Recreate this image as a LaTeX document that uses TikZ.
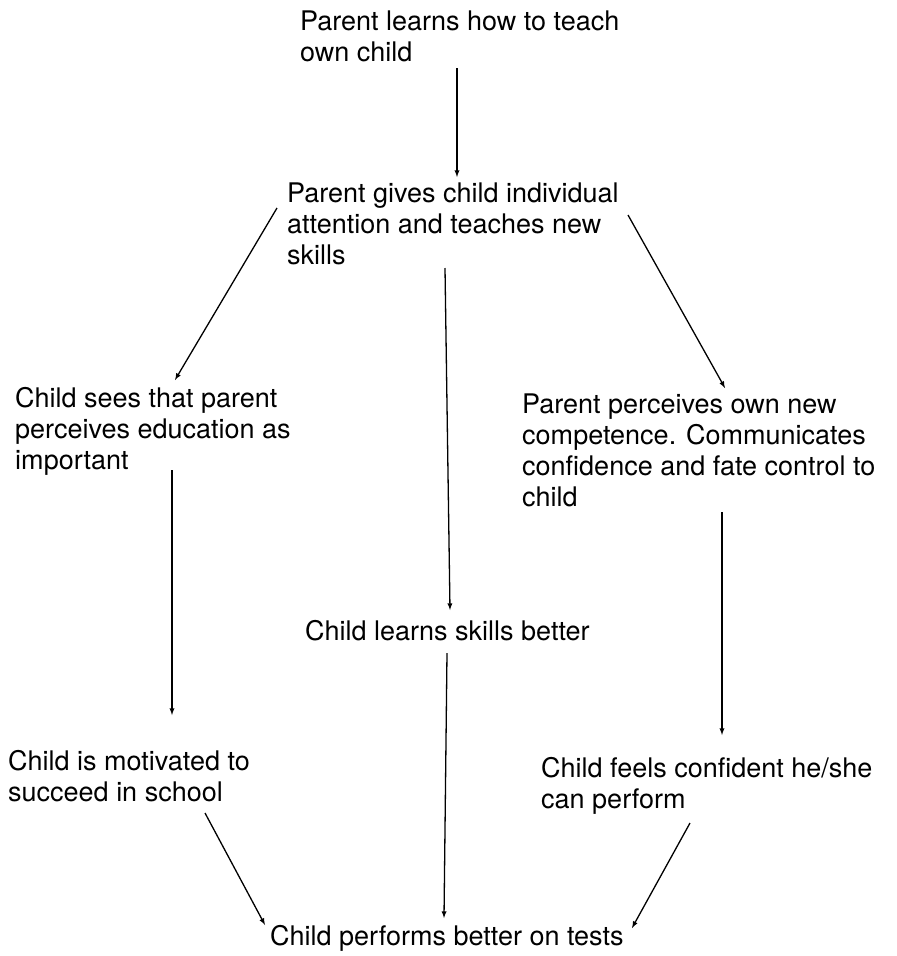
\documentclass[tikz,border=0pt]{standalone}
\usepackage{fontspec}
\setmainfont{TeX Gyre Heros}
\usetikzlibrary{arrows,positioning,calc}

\tikzset{
  lbl/.style={align=left, inner sep=0pt, anchor=base west,
    font=\fontsize{27}{31}\selectfont},
  arr/.style={-latex, line width=1.3pt},
}

\begin{document}
\begin{tikzpicture}[x=1pt,y=-1pt]
\useasboundingbox (0,0) rectangle (897,956);
% boxes of text, placed at the last baseline
\node[lbl] (learnteach) at (300,61) {Parent learns how to teach\\own child};
\node[lbl] (gives) at (287,264) {Parent gives child individual\\attention and teaches new\\skills};
\node[lbl] (sees) at (15,469) {Child sees that parent\\perceives education as\\important};
\node[lbl] (owncomp) at (522,506) {Parent perceives own new\\competence. Communicates\\confidence and fate control to\\child};
\node[lbl] (skills) at (305,640) {Child learns skills better};
\node[lbl] (motiv) at (8,801) {Child is motivated to\\succeed in school};
\node[lbl] (confid) at (541,808) {Child feels confident he/she\\can perform};
\node[lbl] (tests) at (270,945) {Child performs better on tests};
% arrows
\draw[arr] ($(learnteach.base west)+(157,7)$) -- ($(gives.base west)+(170,-87)$);
\draw[arr] ($(gives.base west)+(-10,-56)$) -- ($(sees.base west)+(160,-89)$);
\draw[arr] ($(gives.base west)+(158,4)$) -- ($(skills.base west)+(145,-30)$);
\draw[arr] ($(gives.base west)+(341,-49)$) -- ($(owncomp.base west)+(203,-118)$);
\draw[arr] ($(sees.base west)+(157,1)$) -- ($(motiv.base west)+(164,-86)$);
\draw[arr] ($(owncomp.base west)+(200,6)$) -- ($(confid.base west)+(181,-73)$);
\draw[arr] ($(skills.base west)+(142,13)$) -- ($(tests.base west)+(174,-27)$);
\draw[arr] ($(motiv.base west)+(197,12)$) -- ($(tests.base west)+(-5,-20)$);
\draw[arr] ($(confid.base west)+(149,15)$) -- ($(tests.base west)+(362,-17)$);
\end{tikzpicture}
\end{document}
